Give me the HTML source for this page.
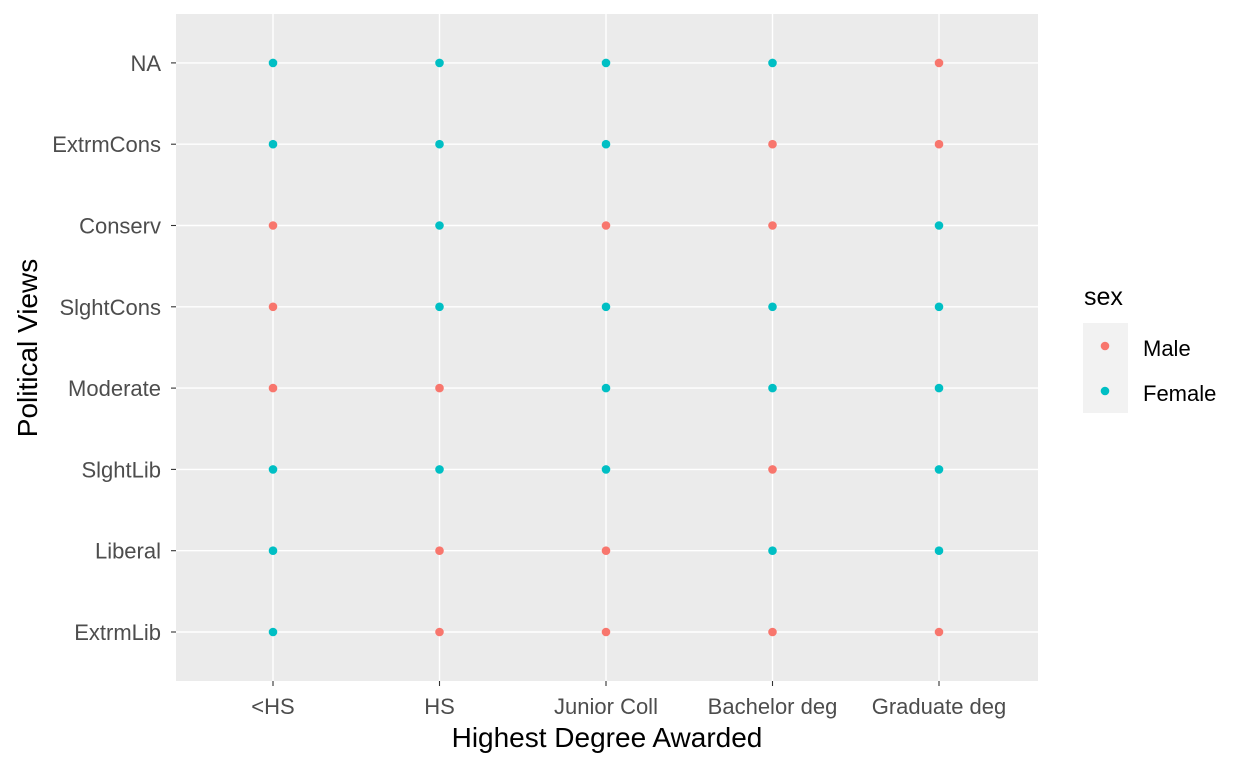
<!DOCTYPE html>
<html><head><meta charset="utf-8"><style>
body{margin:0;background:#fff;font-family:"Liberation Sans",Arial,sans-serif}
</style></head><body>
<svg width="1248" height="768" xmlns="http://www.w3.org/2000/svg">
<rect x="176" y="14" width="862" height="667" fill="#ebebeb"/>
<g id="grid"></g><g id="pts"></g><g id="axes"></g>
<text x="607" y="747" font-size="28" text-anchor="middle" fill="#000">Highest Degree Awarded</text>
<text transform="translate(37,348) rotate(-90)" font-size="28" text-anchor="middle" fill="#000">Political Views</text>
<g>
<text x="1084" y="305" font-size="25">sex</text>
<rect x="1083" y="323" width="45" height="45" fill="#f2f2f2"/>
<rect x="1083" y="368" width="45" height="45" fill="#f2f2f2"/>
<circle cx="1105" cy="346" r="4.3" fill="#F8766D"/>
<circle cx="1105" cy="391" r="4.3" fill="#00BFC4"/>
<text x="1143" y="356" font-size="22" fill="#000">Male</text>
<text x="1143" y="401" font-size="22" fill="#000">Female</text>
</g>
</svg>
<script>
const xCats=["<HS","HS","Junior Coll","Bachelor deg","Graduate deg"];
const yCats=["ExtrmLib","Liberal","SlghtLib","Moderate","SlghtCons","Conserv","ExtrmCons","NA"];
// visible sex per cell: rows follow yCats, columns follow xCats
const sexGrid=[
["Female","Male","Male","Male","Male"],
["Female","Male","Male","Female","Female"],
["Female","Female","Female","Male","Female"],
["Male","Male","Female","Female","Female"],
["Male","Female","Female","Female","Female"],
["Male","Female","Male","Male","Female"],
["Female","Female","Female","Male","Male"],
["Female","Female","Female","Female","Male"]];
const colors={Male:"#F8766D",Female:"#00BFC4"};
const NS="http://www.w3.org/2000/svg";
const xs=i=>273+i*166.5;
const ys=j=>632-j*81.3;
const grid=document.getElementById('grid'),pts=document.getElementById('pts'),axes=document.getElementById('axes');
function mk(tag,attrs,parent){const e=document.createElementNS(NS,tag);for(const k in attrs)e.setAttribute(k,attrs[k]);parent.appendChild(e);return e;}
xCats.forEach((c,i)=>{
 const l=mk('line',{x1:xs(i),x2:xs(i),y1:14,y2:681,stroke:'#fff','stroke-width':1.4},grid);
 
 
 mk('line',{x1:xs(i),x2:xs(i),y1:681,y2:686,stroke:'#333','stroke-width':1.1},axes);
 const t=mk('text',{x:xs(i),y:714,'font-size':22,'text-anchor':'middle',fill:'#4d4d4d'},axes);
 t.textContent=c;
 
 
});
yCats.forEach((c,j)=>{
 const l=mk('line',{x1:176,x2:1038,y1:ys(j),y2:ys(j),stroke:'#fff','stroke-width':1.4},grid);
 
 
 mk('line',{x1:171,x2:176,y1:ys(j),y2:ys(j),stroke:'#333','stroke-width':1.1},axes);
 const t=mk('text',{x:161,y:ys(j)+8,'font-size':22,'text-anchor':'end',fill:'#4d4d4d'},axes);
 t.textContent=c;
 
 
});
sexGrid.forEach((row,j)=>row.forEach((s,i)=>{
 const p=mk('circle',{cx:xs(i),cy:ys(j),r:4.3,fill:colors[s]},pts);
 
 
}));
</script>
</body></html>
